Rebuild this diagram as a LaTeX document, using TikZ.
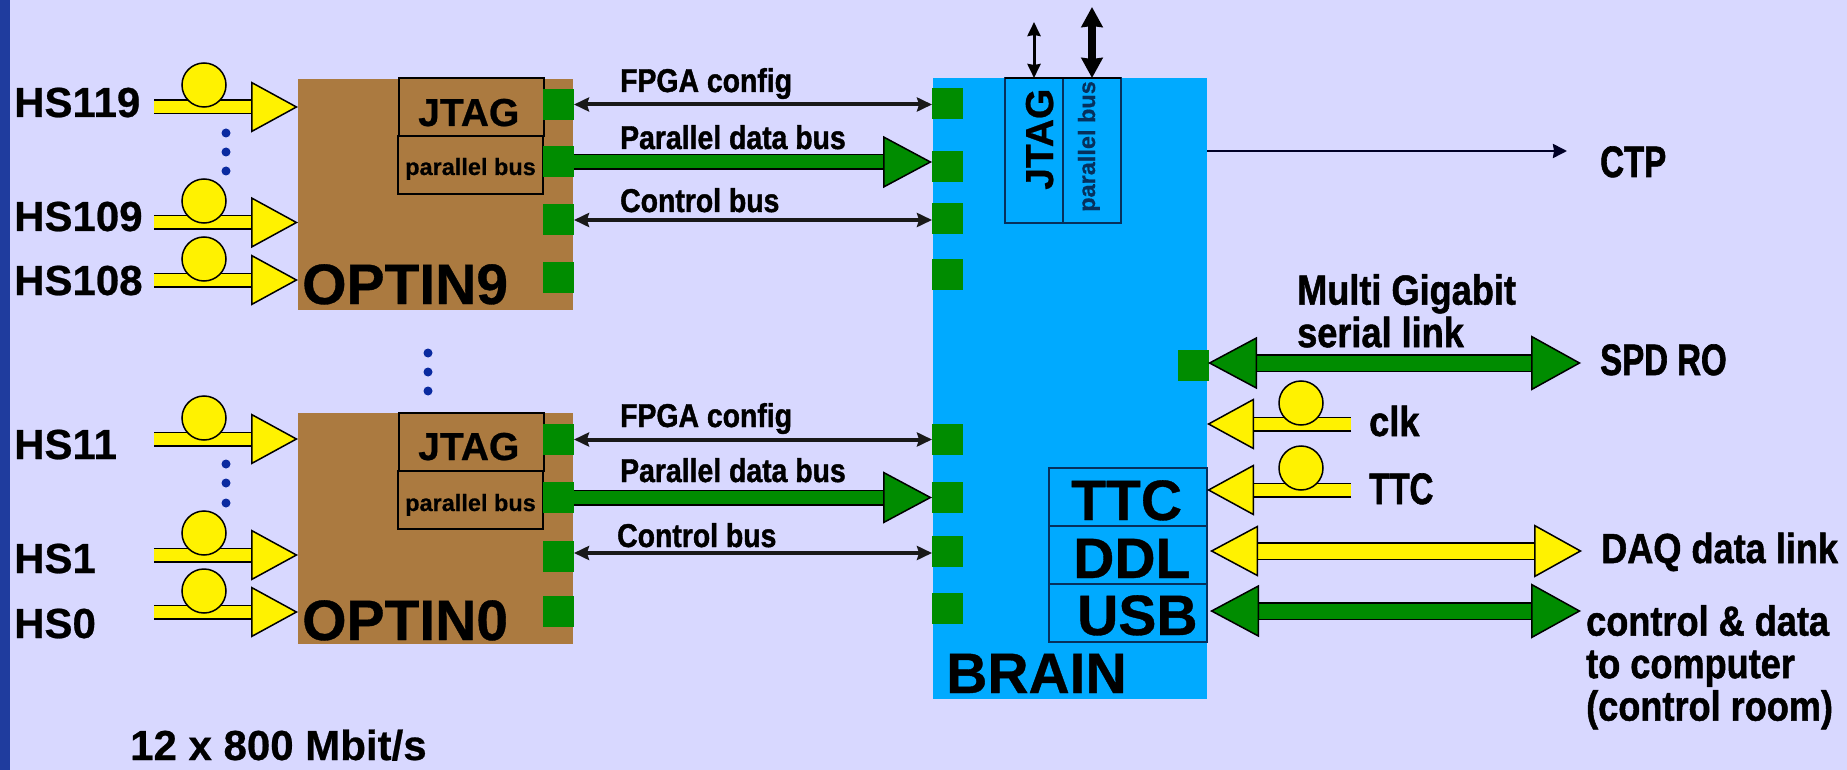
\documentclass[tikz,border=0pt]{standalone}
\usepackage{fontspec}
\usepackage{tikz}
\usetikzlibrary{arrows.meta}
\setmainfont[BoldFeatures={FakeBold=0.6}]{Liberation Sans}
\newfontfamily\narrowfont[FakeStretch=0.86,BoldFeatures={FakeBold=1.2}]{Liberation Sans}
\newfontfamily\tightfont[FakeStretch=0.75,BoldFeatures={FakeBold=1.4}]{Liberation Sans}
\definecolor{pagebg}{HTML}{D8D8FF}
\definecolor{sidebar}{HTML}{1F3C9E}
\definecolor{optbrown}{HTML}{AB7A40}
\definecolor{brainblue}{HTML}{00AAFF}
\definecolor{padgreen}{HTML}{008C00}
\definecolor{boxline}{HTML}{06305C}
\definecolor{dotblue}{HTML}{0A2AA0}
\tikzset{
  optbox/.style={fill=optbrown,anchor=north west,inner sep=0pt,outer sep=0pt,minimum width=275pt,minimum height=231pt},
  brainbox/.style={fill=brainblue,anchor=north west,inner sep=0pt,outer sep=0pt,minimum width=274pt,minimum height=621pt},
  padsq/.style={fill=padgreen,inner sep=0pt,outer sep=0pt,minimum width=31pt,minimum height=31pt},
  subbox/.style={draw=black,line width=1.8pt,anchor=north west,inner sep=0pt,outer sep=0pt,minimum width=145pt,minimum height=58pt},
  blubox/.style={draw=boxline,line width=1.5pt,anchor=north west,inner sep=0pt,outer sep=0pt},
  fiber/.style={circle,draw=black,line width=1.5pt,fill=yellow,inner sep=0pt,outer sep=0pt,minimum size=44pt},
  dotmark/.style={circle,fill=dotblue,inner sep=0pt,minimum size=9pt},
  hslabel/.style={font=\fontsize{42}{46}\selectfont\bfseries,anchor=base west,inner sep=0pt},
  biglabel/.style={font=\fontsize{57}{60}\selectfont\bfseries,anchor=base west,inner sep=0pt},
  midlabel/.style={font=\fontsize{39}{42}\selectfont\bfseries,anchor=base west,inner sep=0pt},
  buslabel/.style={font=\fontsize{23.5}{26}\selectfont\bfseries,anchor=base west,inner sep=0pt},
  wirelabel/.style={font=\narrowfont\fontsize{33}{36}\selectfont\bfseries,anchor=base west,inner sep=0pt},
  sidelabel/.style={font=\narrowfont\fontsize{42}{42.5}\selectfont\bfseries,anchor=base west,inner sep=0pt},
  tightlabel/.style={font=\tightfont\fontsize{44}{46}\selectfont\bfseries,anchor=base west,inner sep=0pt},
  thinbus/.style={draw=black!90,line width=4pt,{Stealth[length=15pt,width=14pt,inset=2pt]}-{Stealth[length=15pt,width=14pt,inset=2pt]}},
  ctpwire/.style={draw=black!85!blue,line width=2.5pt,-{Stealth[length=14pt,width=14pt,inset=1pt]}},
  yellowin/.style={draw=black,line width=1.5pt,double=yellow,double distance=12pt,-{Triangle[length=47pt,width=51pt,fill=yellow,line width=1.5pt]}},
  greenin/.style={draw=black,line width=1.5pt,double=padgreen,double distance=13pt,-{Triangle[length=49pt,width=52pt,fill=padgreen,line width=1.5pt]}},
  yellowboth/.style={draw=black,line width=1.5pt,double=yellow,double distance=15pt,{Triangle[length=48pt,width=51pt,fill=yellow,line width=1.5pt]}-{Triangle[length=48pt,width=53pt,fill=yellow,line width=1.5pt]}},
  greenboth/.style={draw=black,line width=1.5pt,double=padgreen,double distance=15pt,{Triangle[length=49pt,width=52pt,fill=padgreen,line width=1.5pt]}-{Triangle[length=50pt,width=55pt,fill=padgreen,line width=1.5pt]}}
}
\begin{document}
\begin{tikzpicture}[x=1pt,y=-1pt]
\useasboundingbox (0,0) rectangle (1847,770);
\fill[pagebg] (0,0) rectangle (1847,770);
\fill[sidebar] (0,0) rectangle (10,770);

\node [optbox] (opt9) at (298,79) {};
\node [optbox] (opt0) at (298,413) {};
\node [brainbox] (brn) at (933,78) {};

\node [subbox] (opt9j) at (399,78) {};
\node [subbox] (opt9p) at (398,136) {};
\node [subbox] (opt0j) at (399,413) {};
\node [subbox] (opt0p) at (398,471) {};
\node [midlabel] (opt9jt) at (418,126) {JTAG};
\node [buslabel] (opt9pt) at (405,175) {parallel bus};
\node [midlabel] (opt0jt) at (418,460) {JTAG};
\node [buslabel] (opt0pt) at (405,511) {parallel bus};
\node [biglabel] (opt9t) at (302,304) {OPTIN9};
\node [biglabel] (opt0t) at (302,640) {OPTIN0};

\node [padsq] (opt9a) at (558.5,104.5) {};
\node [padsq] (opt9b) at (558.5,162) {};
\node [padsq] (opt9c) at (558.5,220) {};
\node [padsq] (opt9d) at (558.5,277) {};
\node [padsq] (opt0a) at (558.5,439.5) {};
\node [padsq] (opt0b) at (558.5,497.5) {};
\node [padsq] (opt0c) at (558.5,556) {};
\node [padsq] (opt0d) at (558.5,611) {};
\node [padsq] (brn9a) at (947.5,103.5) {};
\node [padsq] (brn9b) at (947.5,167) {};
\node [padsq] (brn9c) at (947.5,219) {};
\node [padsq] (brn9d) at (947.5,274.5) {};
\node [padsq] (brn0a) at (947.5,439) {};
\node [padsq] (brn0b) at (947.5,497.5) {};
\node [padsq] (brn0c) at (947.5,551) {};
\node [padsq] (brn0d) at (947.5,608) {};
\node [padsq] (brns) at (1193,365.5) {};

\node [blubox,minimum width=58pt,minimum height=145pt] (brnj) at (1005,78) {};
\node [blubox,minimum width=58pt,minimum height=145pt] (brnp) at (1063,78) {};
\node [midlabel,rotate=90] (brnjt) at (1053,190) {JTAG};
\node [buslabel,rotate=90,text=boxline] (brnpt) at (1095,212) {parallel bus};
\draw [black,line width=2pt] (brnj.north west) -- (brnp.north east);
\coordinate (jtagup) at (1034,22);
\coordinate (parup) at (1092,7);
\draw [draw=black,line width=3pt,{Stealth[length=14pt,width=13pt,inset=1pt]}-{Stealth[length=14pt,width=13pt,inset=1pt]}] (jtagup) -- (jtagup |- brnj.north);
\draw [draw=black,line width=8pt,{Stealth[length=20pt,width=21pt,inset=1pt]}-{Stealth[length=20pt,width=21pt,inset=1pt]}] (parup) -- (parup |- brnp.north);

\node [blubox,minimum width=158pt,minimum height=58pt] (ttc) at (1049,468) {};
\node [blubox,minimum width=158pt,minimum height=58pt] (ddl) at (1049,526) {};
\node [blubox,minimum width=158pt,minimum height=58pt] (usb) at (1049,584) {};
\node [biglabel] (ttct) at (1071,520) {TTC};
\node [biglabel] (ddlt) at (1073,578) {DDL};
\node [biglabel] (usbt) at (1077,635) {USB};
\node [biglabel] (brnt) at (946,693) {BRAIN};

\node [hslabel] (hs119) at (14,117) {HS119};
\node [hslabel] (hs109) at (14,231) {HS109};
\node [hslabel] (hs108) at (14,295) {HS108};
\node [hslabel] (hs11) at (14,459) {HS11};
\node [hslabel] (hs1) at (14,573) {HS1};
\node [hslabel] (hs0) at (14,638) {HS0};
\coordinate (hs119e) at (154,107);
\coordinate (hs109e) at (154,222.5);
\coordinate (hs108e) at (154,280);
\coordinate (hs11e) at (154,439);
\coordinate (hs1e) at (154,555);
\coordinate (hs0e) at (154,612);
\draw [yellowin] (hs119e) -- (hs119e -| opt9.west);
\draw [yellowin] (hs109e) -- (hs109e -| opt9.west);
\draw [yellowin] (hs108e) -- (hs108e -| opt9.west);
\draw [yellowin] (hs11e) -- (hs11e -| opt0.west);
\draw [yellowin] (hs1e) -- (hs1e -| opt0.west);
\draw [yellowin] (hs0e) -- (hs0e -| opt0.west);
\node [fiber] (f119) at (204,85) {};
\node [fiber] (f109) at (204,201) {};
\node [fiber] (f108) at (204,259) {};
\node [fiber] (f11) at (204,418) {};
\node [fiber] (f1) at (204,533) {};
\node [fiber] (f0) at (204,591) {};

\node [dotmark] (d1) at (226,133) {};
\node [dotmark] (d2) at (226,152) {};
\node [dotmark] (d3) at (226,171) {};
\node [dotmark] (d4) at (226,464) {};
\node [dotmark] (d5) at (226,483) {};
\node [dotmark] (d6) at (226,503) {};
\node [dotmark] (d7) at (428,353) {};
\node [dotmark] (d8) at (428,372) {};
\node [dotmark] (d9) at (428,391) {};

\draw [thinbus] (opt9a.east) -- (opt9a.east -| brn9a.west);
\draw [greenin] (opt9b.east) -- (opt9b.east -| brn9b.west);
\draw [thinbus] (opt9c.east) -- (opt9c.east -| brn9c.west);
\draw [thinbus] (opt0a.east) -- (opt0a.east -| brn0a.west);
\draw [greenin] (opt0b.east) -- (opt0b.east -| brn0b.west);
\draw [thinbus] ([yshift=3pt]opt0c.east) -- ([yshift=3pt]opt0c.east -| brn0c.west);
\node [wirelabel] (fpga9) at (620,92) {FPGA config};
\node [wirelabel] (data9) at (620,149) {Parallel data bus};
\node [wirelabel] (ctrl9) at (620,212) {Control bus};
\node [wirelabel] (fpga0) at (620,427) {FPGA config};
\node [wirelabel] (data0) at (620,482) {Parallel data bus};
\node [wirelabel] (ctrl0) at (617,547) {Control bus};

\coordinate (ctpe) at (1567,151);
\draw [ctpwire] (ctpe -| brn.east) -- (ctpe);
\node [tightlabel] (ctp) at (1600,177) {CTP};

\coordinate (spdl) at (1208,363);
\coordinate (spdr) at (1581,363);
\draw [greenboth] (spdl) -- (spdr);
\node [sidelabel,align=left,anchor=north west] (mgt) at (1297,274) {Multi Gigabit\\serial link};
\node [tightlabel] (spd) at (1600,375) {SPD RO};

\coordinate (clke) at (1351,424);
\coordinate (ttce) at (1351,490);
\draw [yellowin] (clke) -- (clke -| brn.east);
\draw [yellowin] (ttce) -- (ttce -| brn.east);
\node [fiber] (fclk) at (1301,403) {};
\node [fiber] (fttc) at (1301,468) {};
\node [sidelabel] (clk) at (1369,436) {clk};
\node [tightlabel] (ttcl) at (1369,504) {TTC};

\coordinate (daql) at (1210,551);
\coordinate (daqr) at (1582,551);
\coordinate (usbl) at (1210,611);
\coordinate (usbr) at (1581,611);
\draw [yellowboth] (daql) -- (daqr);
\draw [greenboth] (usbl) -- (usbr);
\node [sidelabel] (daq) at (1601,563) {DAQ data link};
\node [sidelabel,align=left,anchor=north west] (pc) at (1586,605) {control \& data\\to computer\\(control room)};

\node [hslabel] (rate) at (130,760) {12 x 800 Mbit/s};
\end{tikzpicture}
\end{document}
